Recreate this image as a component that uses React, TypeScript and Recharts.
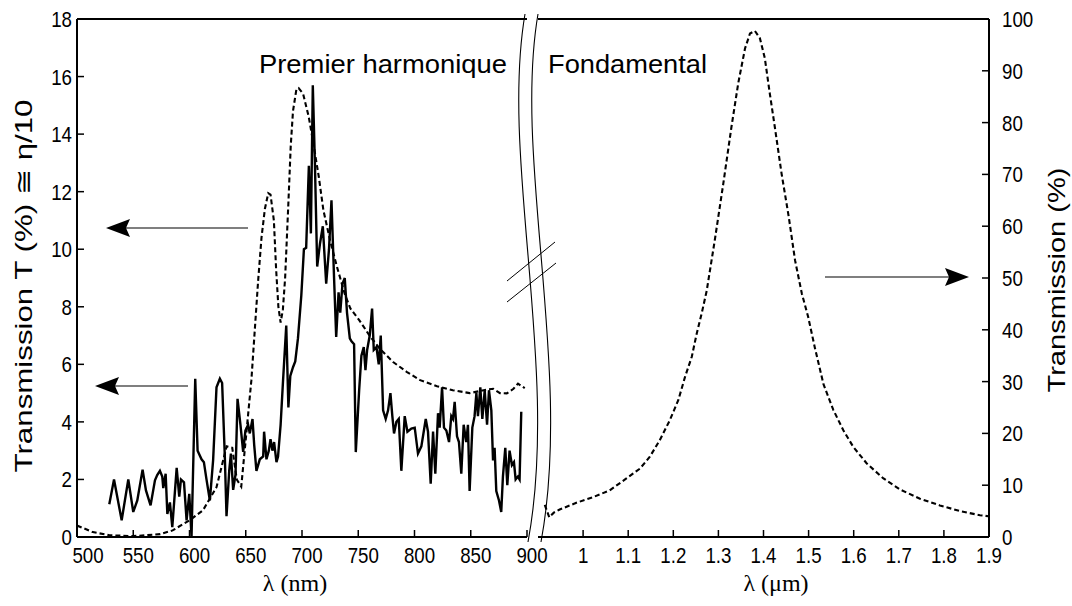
import React from 'react';
import { LineChart, Line, XAxis, YAxis } from 'recharts';

// ---- Data ----
const harmonicTheoryNm = [500, 514, 529, 550, 574, 585, 600, 612, 624, 633, 638, 642, 646, 651, 655, 661, 664, 667, 670, 672, 675, 677, 679, 681, 683, 685, 688, 690, 692, 695, 697, 701, 706, 710, 715, 719, 725, 731, 738, 743, 751, 760, 769, 781, 793, 805, 820, 834, 849, 864, 870, 876, 882, 888, 892, 898];
const harmonicTheoryT = [0.4, 0.17, 0.06, 0.03, 0.1, 0.23, 0.58, 0.93, 1.73, 3.15, 3.1, 2.0, 1.75, 3.8, 5.45, 8.9, 10.4, 11.4, 11.95, 11.9, 11.0, 9.3, 8.0, 7.45, 7.9, 9.0, 11.7, 13.6, 14.8, 15.55, 15.6, 15.4, 14.6, 13.7, 12.5, 11.36, 10.3, 9.4, 8.45, 7.94, 7.53, 7.0, 6.55, 6.08, 5.74, 5.45, 5.24, 5.1, 5.0, 5.12, 5.15, 5.0, 4.99, 5.15, 5.33, 5.17];

const harmonicMeasNm = [528.7, 532.9, 539.7, 545.6, 550, 553.6, 558.3, 561.3, 565.4, 569.3, 571.3, 573.7, 575.8, 576.7, 578.8, 580.3, 582.6, 584.7, 588.6, 590.9, 592.4, 595.1, 597.4, 599.8, 601.8, 605.1, 607.2, 610.7, 612.8, 615.1, 618.1, 621, 624, 627, 629, 631.4, 632.9, 635.3, 636.8, 638.8, 640.9, 642.7, 645.3, 647.7, 649.7, 652.1, 653.6, 656, 657.5, 659.5, 662.5, 665.5, 666.3, 668.4, 670.5, 672, 673.7, 675.2, 677.3, 678.7, 681, 683.1, 686, 687.9, 689.6, 692, 694, 696.4, 699.4, 701.7, 703.7, 706.1, 707.9, 709.6, 711.4, 713.5, 716, 718.5, 721.5, 724, 726.2, 728.5, 730.4, 732.5, 734, 736, 738, 740, 742.5, 744, 746.3, 747.8, 750.8, 752.8, 754.9, 756.4, 757.9, 760.2, 762.3, 763.8, 766.2, 768.2, 770, 772.1, 774.4, 776.5, 778.6, 780.3, 781.8, 783.9, 786, 788.3, 791.3, 793.7, 797.2, 800.2, 803.1, 806.1, 810, 812, 814.4, 816.5, 818.5, 820.9, 822.4, 824.5, 826.2, 828.3, 830.7, 832.7, 834.2, 835.7, 837.8, 839.5, 841.6, 843.7, 846, 847.5, 849, 851.4, 853.4, 855, 856.4, 858.5, 860.3, 862.4, 864.5, 866.2, 868.3, 869.8, 871.2, 872.7, 875.1, 877.1, 878.6, 880.7, 882.5, 884.5, 886.6, 888.4, 889.9, 891.9, 893.4, 894.9];
const harmonicMeasT = [1.14, 2.0, 0.58, 2.0, 0.87, 1.27, 2.34, 1.62, 1.1, 1.97, 2.15, 2.3, 2.1, 1.7, 2.2, 0.8, 1.2, 0.34, 2.4, 1.4, 2.0, 1.9, 0.58, 1.5, 0.0, 5.5, 3.0, 2.7, 2.6, 2.0, 1.27, 2.67, 5.2, 5.5, 5.35, 2.8, 0.72, 2.3, 2.9, 1.64, 2.17, 4.8, 3.9, 2.96, 3.7, 3.9, 3.6, 4.1, 3.2, 2.3, 2.7, 2.8, 3.66, 2.7, 3.0, 3.4, 3.0, 3.3, 2.6, 2.8, 3.9, 5.4, 7.35, 4.5, 5.6, 5.9, 6.1, 6.9, 8.4, 10.0, 10.05, 12.9, 10.55, 15.7, 13.1, 9.4, 10.2, 10.8, 8.8, 10.0, 11.7, 9.0, 6.95, 8.5, 7.8, 8.8, 9.0, 7.8, 6.9, 6.8, 6.7, 2.95, 5.1, 6.3, 6.6, 5.8, 6.5, 7.0, 7.94, 6.5, 6.6, 6.0, 7.0, 4.4, 4.1, 4.4, 5.0, 4.2, 3.6, 4.0, 4.1, 2.3, 4.2, 3.66, 3.77, 3.8, 2.9, 3.15, 4.1, 3.66, 1.85, 3.66, 2.2, 4.3, 3.8, 5.2, 3.8, 3.7, 3.3, 4.2, 4.1, 4.7, 3.5, 3.3, 2.2, 3.9, 3.3, 3.9, 1.6, 3.8, 4.2, 5.0, 4.2, 5.2, 4.1, 5.1, 3.9, 5.1, 4.4, 2.66, 3.1, 1.6, 1.27, 0.87, 2.1, 3.1, 1.8, 3.0, 2.5, 2.6, 2.0, 2.1, 2.0, 4.35];

const fundamentalUm = [0.915, 0.925, 0.935, 0.948, 0.985, 1.022, 1.059, 1.096, 1.126, 1.148, 1.17, 1.192, 1.211, 1.226, 1.241, 1.252, 1.263, 1.274, 1.292, 1.311, 1.329, 1.344, 1.359, 1.37, 1.381, 1.392, 1.403, 1.414, 1.425, 1.44, 1.456, 1.47, 1.485, 1.499, 1.514, 1.533, 1.555, 1.577, 1.599, 1.629, 1.666, 1.703, 1.747, 1.791, 1.836, 1.88, 1.899];
const fundamentalT = [6.2, 3.8, 4.7, 5.3, 6.6, 7.7, 9.0, 11.3, 13.2, 15.5, 18.7, 22.5, 26.4, 30.9, 34.8, 39.3, 43.2, 47.5, 57.3, 68.3, 79.2, 87.6, 94.3, 97.2, 97.7, 96.3, 92.4, 85.6, 79.2, 70.2, 61.8, 53.4, 47.0, 42.5, 36.5, 29.5, 24.5, 20.6, 17.4, 14.2, 11.3, 9.15, 7.4, 6.1, 5.0, 4.2, 4.0];

const nmTicks = [500, 550, 600, 650, 700, 750, 800, 850, 900];
const umTicks = [1, 1.1, 1.2, 1.3, 1.4, 1.5, 1.6, 1.7, 1.8, 1.9];
const leftTicks = [0, 2, 4, 6, 8, 10, 12, 14, 16, 18];
const rightTicks = [0, 10, 20, 30, 40, 50, 60, 70, 80, 90, 100];

const theoryData = harmonicTheoryNm.map((x, i) => ({ x, y: harmonicTheoryT[i] }));
const measData = harmonicMeasNm.map((x, i) => ({ x, y: harmonicMeasT[i] }));
const fundData = fundamentalUm.map((x, i) => ({ x, y: fundamentalT[i] }));

const SANS = "'Liberation Sans', Arial, Helvetica, sans-serif";
const SERIF = "'Liberation Serif', 'Times New Roman', serif";
const TICK = 7;

const Label = ({ x, y, anchor, children }: any) => (
  <g transform={`translate(${x},${y}) scale(0.85,1)`}>
    <text x={0} y={0} textAnchor={anchor} fontSize={22} fontFamily={SANS} fill="#000">{children}</text>
  </g>
);

const BottomTick = (props: any) => {
  const { x, y, payload, shift } = props;
  const dx = shift ? (payload.value === 500 ? 11 : 5) : 0;
  return (
    <g>
      <line x1={x} y1={y} x2={x} y2={y - TICK} stroke="#000" strokeWidth={1.5} />
      <Label x={x + dx} y={y + 26} anchor="middle">{String(payload.value)}</Label>
    </g>
  );
};
const TopTick = (props: any) => {
  const { x, y } = props;
  return <line x1={x} y1={y} x2={x} y2={y + TICK} stroke="#000" strokeWidth={1.5} />;
};
const LeftTick = (props: any) => {
  const { x, y, payload } = props;
  return (
    <g>
      <line x1={x} y1={y} x2={x + TICK} y2={y} stroke="#000" strokeWidth={1.5} />
      <Label x={x - 5} y={y + 8} anchor="end">{String(payload.value)}</Label>
    </g>
  );
};
const RightTick = (props: any) => {
  const { x, y, payload } = props;
  return (
    <g>
      <line x1={x} y1={y} x2={x - TICK} y2={y} stroke="#000" strokeWidth={1.5} />
      <Label x={x + 13} y={y + 8} anchor="start">{String(payload.value)}</Label>
    </g>
  );
};

const axisLine = { stroke: '#000', strokeWidth: 2 };
const abs: React.CSSProperties = { position: 'absolute', left: 0, top: 0 };

export default function App() {
  return (
    <div style={{ position: 'absolute', left: 0, top: 0, width: 1072, height: 606, background: '#fff', overflow: 'hidden' }}>
      <div style={abs}>
        <LineChart width={1072} height={606} margin={{ top: 14, right: 545, bottom: 39, left: 37 }}>
          <XAxis xAxisId="b" dataKey="x" type="number" domain={[500, 900]} ticks={nmTicks} allowDataOverflow
            height={30} axisLine={axisLine} tickLine={false} tickSize={0} tickMargin={0} tick={<BottomTick shift />} interval={0} />
          <XAxis xAxisId="t" orientation="top" dataKey="x" type="number" domain={[500, 900]} ticks={nmTicks}
            height={5} axisLine={axisLine} tickLine={false} tickSize={0} tickMargin={0} tick={<TopTick />} interval={0} />
          <YAxis yAxisId="l" type="number" domain={[0, 18]} ticks={leftTicks} width={40} axisLine={axisLine}
            tickLine={false} tickSize={0} tickMargin={0} tick={<LeftTick />} interval={0} />
          <Line xAxisId="b" yAxisId="l" data={theoryData} dataKey="y" type="linear" stroke="#000" strokeWidth={2.1}
            strokeDasharray="5 3" dot={false} isAnimationActive={false} />
          <Line xAxisId="b" yAxisId="l" data={measData} dataKey="y" type="linear" stroke="#000" strokeWidth={2.4}
            dot={false} isAnimationActive={false} />
        </LineChart>
      </div>
      <div style={abs}>
        <LineChart width={1072} height={606} margin={{ top: 14, right: 43, bottom: 39, left: 538 }}>
          <XAxis xAxisId="b" dataKey="x" type="number" domain={[0.9, 1.9]} ticks={umTicks} allowDataOverflow
            height={30} axisLine={axisLine} tickLine={false} tickSize={0} tickMargin={0} tick={<BottomTick />} interval={0} />
          <XAxis xAxisId="t" orientation="top" dataKey="x" type="number" domain={[0.9, 1.9]} ticks={umTicks}
            height={5} axisLine={axisLine} tickLine={false} tickSize={0} tickMargin={0} tick={<TopTick />} interval={0} />
          <YAxis yAxisId="r" orientation="right" type="number" domain={[0, 100]} ticks={rightTicks} width={40}
            axisLine={axisLine} tickLine={false} tickSize={0} tickMargin={0} tick={<RightTick />} interval={0} />
          <Line xAxisId="b" yAxisId="r" data={fundData} dataKey="y" type="linear" stroke="#000" strokeWidth={2.1}
            strokeDasharray="5 3" dot={false} isAnimationActive={false} />
        </LineChart>
      </div>
      <svg width={1072} height={606} style={{ ...abs, pointerEvents: 'none' }}>
        {/* axis break */}
        <path d="M525 14 C 500 160, 560 370, 528 542" fill="none" stroke="#000" strokeWidth={1.1} />
        <path d="M538 14 C 513 160, 573 370, 541 542" fill="none" stroke="#000" strokeWidth={1.1} />
        <line x1={507} y1={281} x2={555} y2={242} stroke="#000" strokeWidth={1} />
        <line x1={507} y1={302} x2={556} y2={263} stroke="#000" strokeWidth={1} />
        {/* arrows */}
        <line x1={248} y1={228} x2={125} y2={228} stroke="#000" strokeWidth={1.2} />
        <polygon points="106,228 130,219 126,228 130,237" fill="#000" />
        <line x1={188} y1={386} x2={114} y2={386} stroke="#000" strokeWidth={1.2} />
        <polygon points="95,386 119,377 115,386 119,395" fill="#000" />
        <line x1={825} y1={277} x2={950} y2={277} stroke="#000" strokeWidth={1.2} />
        <polygon points="969,277 945,268 949,277 945,286" fill="#000" />
        {/* annotations */}
        <text x={259} y={73} fontSize={26} fontFamily={SANS} textLength={248} lengthAdjust="spacingAndGlyphs" fill="#000">Premier harmonique</text>
        <text x={548} y={73} fontSize={26} fontFamily={SANS} textLength={159} lengthAdjust="spacingAndGlyphs" fill="#000">Fondamental</text>
        {/* axis titles */}
        <text x={295} y={591} fontSize={24} fontFamily={SERIF} textAnchor="middle" fill="#000">λ (nm)</text>
        <text x={776} y={591} fontSize={24} fontFamily={SERIF} textAnchor="middle" fill="#000">λ (μm)</text>
        <g transform="translate(32,286) rotate(-90)">
          <text x={0} y={0} fontSize={24} fontFamily={SANS} textAnchor="middle" textLength={373} lengthAdjust="spacingAndGlyphs" fill="#000">Transmission T (%) ≅ η/10</text>
        </g>
        <g transform="translate(1065,280) rotate(-90)">
          <text x={0} y={0} fontSize={24} fontFamily={SANS} textAnchor="middle" textLength={225} lengthAdjust="spacingAndGlyphs" fill="#000">Transmission (%)</text>
        </g>
      </svg>
    </div>
  );
}
